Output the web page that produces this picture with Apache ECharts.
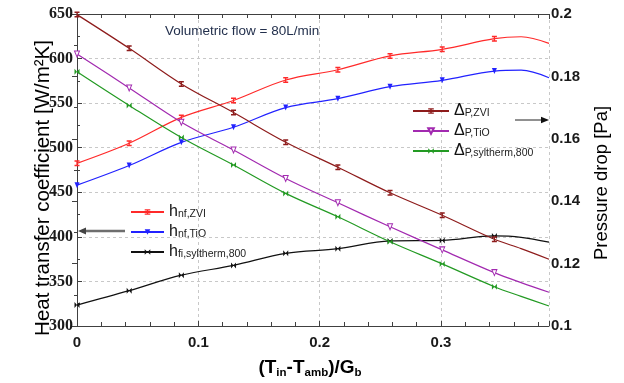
<!DOCTYPE html>
<html>
<head>
<meta charset="utf-8">
<script src="https://cdn.jsdelivr.net/npm/echarts@6/dist/echarts.min.js"></script>
<style>
  html, body { margin: 0; padding: 0; background: #fff; }
  #chart { width: 624px; height: 383px; }
</style>
</head>
<body>
<div id="chart"></div>
<script>
/* ── Data ────────────────────────────────────────── */
const xVals = [0, 0.043, 0.086, 0.129, 0.172, 0.215, 0.258, 0.301, 0.344, 0.366, 0.389];
const markerCount = 9; // last two points are curve-only

const hZVI = [482.5, 505, 534, 553, 576, 587.5, 603, 610.4, 622.3, 624.5, 617];
const hTiO = [458, 480, 506, 523, 545, 555, 568.5, 575.6, 586, 587, 578.5];
const hSyl = [323.5, 339.6, 357, 368, 381.5, 386.7, 395.4, 396, 401, 399.5, 394];

const dpZVI = [0.1998, 0.189, 0.1776, 0.1684, 0.1589, 0.1509, 0.1427, 0.1355, 0.1278, 0.1248, 0.1214];
const dpTiO = [0.1872, 0.1763, 0.1653, 0.1564, 0.1473, 0.1395, 0.1318, 0.1244, 0.1171, 0.1139, 0.1108];
const dpSyl = [0.1815, 0.1707, 0.1604, 0.1516, 0.1425, 0.1350, 0.1270, 0.1199, 0.1126, 0.1095, 0.1064];

const xTicks = [0, 0.1, 0.2, 0.3];

/* ── Marker shapes ───────────────────────────────── */
const SYM_IBEAM = "path://M0,0H8V2H5V6H8V8H0V6H3V2H0Z";
const SYM_TRI = "path://M0,0L10,0L5,9Z";
const SYM_BOW = "path://M0,0L5,4L0,8Z M10,0L5,4L10,8Z";

function pts(ys) {
  return xVals.map((x, i) =>
    i < markerCount ? [x, ys[i]] : { value: [x, ys[i]], symbol: "none" }
  );
}

function line(name, ys, color, symbol, yIdx, hollow) {
  return {
    name,
    type: "line",
    yAxisIndex: yIdx,
    data: pts(ys),
    smooth: 0.35,
    symbol,
    symbolSize: [5, 6],
    lineStyle: { color, width: 1.2 },
    itemStyle: hollow
      ? { color: "#fff", borderColor: color, borderWidth: 1 }
      : { color },
    emphasis: { disabled: true },
    z: 3,
  };
}

const chart = echarts.init(document.getElementById("chart"));

const legendRich = {
  m: { fontSize: 16, fontFamily: "Liberation Sans", color: "#111", lineHeight: 16, verticalAlign: "middle" },
  s: { fontSize: 10.5, fontFamily: "Liberation Sans", color: "#222", lineHeight: 16, verticalAlign: "bottom", padding: [6, 0, 0, 0] },
};
function legendFmt(name) {
  const i = name.indexOf("_");
  return "{m|" + name.slice(0, i) + "}{s|" + name.slice(i + 1) + "}";
}

const tickFont = { fontFamily: "Liberation Sans", fontWeight: "bold", fontSize: 15, color: "#1a1a1a" };

chart.setOption({
  backgroundColor: "#fff",
  animation: false,
  grid: { left: 77, right: 75, top: 14, bottom: 57 },
  xAxis: [
    {
      type: "value",
      min: 0,
      max: 0.389,
      interval: 0.1,
      axisLine: { show: true, lineStyle: { color: "#404040", width: 1 } },
      axisTick: { show: true, inside: true, length: 5, lineStyle: { color: "#404040" } },
      minorTick: { show: true, splitNumber: 5, length: 4, lineStyle: { color: "#404040" } },
      axisLabel: {
        ...tickFont,
        margin: 9,
        showMaxLabel: false,
        formatter: (v) => (xTicks.some((t) => Math.abs(t - v) < 1e-9) ? String(Math.round(v * 10) / 10) : ""),
      },
      splitLine: { show: true, lineStyle: { color: "#c8c8c8", type: [3, 3] } },
    },
    {
      type: "value",
      position: "top",
      min: 0,
      max: 0.389,
      interval: 0.1,
      axisLine: { show: true, lineStyle: { color: "#404040", width: 1 } },
      axisTick: { show: true, inside: true, length: 5, lineStyle: { color: "#404040" } },
      minorTick: { show: true, splitNumber: 5, length: 4, lineStyle: { color: "#404040" } },
      axisLabel: { show: false },
      splitLine: { show: false },
    },
  ],
  yAxis: [
    {
      type: "value",
      min: 300,
      max: 650,
      interval: 50,
      axisLine: { show: true, lineStyle: { color: "#404040", width: 1 } },
      axisTick: { show: true, inside: true, length: 5, lineStyle: { color: "#404040" } },
      minorTick: { show: true, splitNumber: 2, length: 3, lineStyle: { color: "#404040" } },
      axisLabel: { fontFamily: "Liberation Serif", fontWeight: "bold", fontSize: 16, color: "#1a1a1a", margin: 4 },
      splitLine: { show: true, lineStyle: { color: "#c8c8c8", type: [3, 3] } },
    },
    {
      type: "value",
      min: 0.1,
      max: 0.2,
      interval: 0.02,
      axisLine: { show: true, lineStyle: { color: "#404040", width: 1 } },
      axisTick: { show: true, inside: true, length: 5, lineStyle: { color: "#404040" } },
      minorTick: { show: true, splitNumber: 2, length: 3, lineStyle: { color: "#404040" } },
      axisLabel: { ...tickFont, margin: 2, formatter: (v) => String(Math.round(v * 100) / 100) },
      splitLine: { show: false },
    },
  ],
  legend: [
    {
      data: ["h_nf,ZVI", "h_nf,TiO", "h_fi,syltherm,800"],
      orient: "vertical",
      left: 130,
      top: 203,
      padding: 0,
      itemWidth: 33,
      itemHeight: 7,
      itemGap: 3,
      selectedMode: false,
      formatter: legendFmt,
      textStyle: { rich: legendRich },
    },
    {
      data: ["Δ_P,ZVI", "Δ_P,TiO", "Δ_P,syltherm,800"],
      orient: "vertical",
      left: 412,
      top: 102,
      padding: 0,
      itemWidth: 36,
      itemHeight: 7,
      itemGap: 3,
      selectedMode: false,
      formatter: legendFmt,
      textStyle: { rich: legendRich },
    },
  ],
  graphic: [
    {
      type: "text",
      left: 165,
      top: 24,
      style: { text: "Volumetric flow = 80L/min", font: "13.5px 'Liberation Sans'", fill: "#23304d" },
    },
    {
      type: "text",
      x: 43,
      y: 188,
      rotation: Math.PI / 2,
      style: { text: "Heat transfer coefficient [W/m²K]", font: "20.5px 'Liberation Sans'", fill: "#000", align: "center", verticalAlign: "middle" },
    },
    {
      type: "text",
      x: 602,
      y: 183,
      rotation: Math.PI / 2,
      style: { text: "Pressure drop [Pa]", font: "18.5px 'Liberation Sans'", fill: "#000", align: "center", verticalAlign: "middle" },
    },
    {
      type: "text",
      x: 310,
      y: 368,
      style: {
        text: "{b|(T}{s|in}{b|-T}{s|amb}{b|)/G}{s|b}",
        align: "center",
        verticalAlign: "middle",
        rich: {
          b: { fontFamily: "Liberation Sans", fontWeight: "bold", fontSize: 19, fill: "#000", lineHeight: 22, verticalAlign: "middle" },
          s: { fontFamily: "Liberation Sans", fontWeight: "bold", fontSize: 11.5, fill: "#000", lineHeight: 22, verticalAlign: "bottom" },
        },
      },
    },
    /* arrow towards left axis */
    { type: "line", shape: { x1: 125, y1: 231, x2: 84, y2: 231 }, style: { stroke: "#6e6e6e", lineWidth: 2.5 } },
    { type: "polygon", shape: { points: [[78, 231], [86, 227.5], [86, 234.5]] }, style: { fill: "#444" } },
    /* arrow towards right axis */
    { type: "line", shape: { x1: 515, y1: 120, x2: 542, y2: 120 }, style: { stroke: "#222", lineWidth: 1 } },
    { type: "polygon", shape: { points: [[549, 120], [541, 116.8], [541, 123.2]] }, style: { fill: "#111" } },
  ],
  series: [
    line("h_nf,ZVI", hZVI, "#ff2a2a", SYM_IBEAM, 0),
    line("h_nf,TiO", hTiO, "#2222ff", SYM_TRI, 0),
    line("h_fi,syltherm,800", hSyl, "#111111", SYM_BOW, 0),
    line("Δ_P,ZVI", dpZVI, "#8e1c1c", SYM_IBEAM, 1),
    line("Δ_P,TiO", dpTiO, "#a22ab0", SYM_TRI, 1, true),
    line("Δ_P,syltherm,800", dpSyl, "#239a23", SYM_BOW, 1),
  ],
});

window.addEventListener("resize", () => chart.resize());
</script>
</body>
</html>
